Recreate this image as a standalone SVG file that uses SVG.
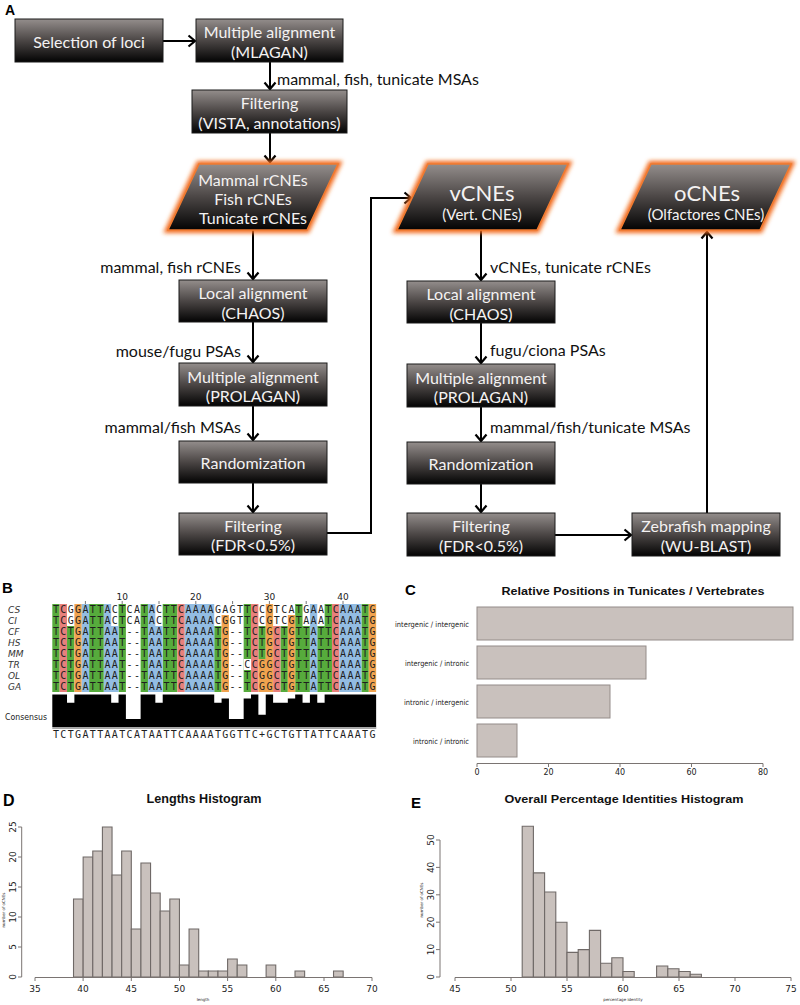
<svg xmlns="http://www.w3.org/2000/svg" xmlns:xlink="http://www.w3.org/1999/xlink" width="800" height="1005" viewBox="0 0 800 1005">
<defs>
<linearGradient id="boxg" x1="0" y1="0" x2="0" y2="1">
<stop offset="0" stop-color="#948e8c"/><stop offset="0.5" stop-color="#4b4645"/><stop offset="1" stop-color="#030303"/>
</linearGradient>
<filter id="glow" x="-20%" y="-40%" width="140%" height="180%"><feGaussianBlur stdDeviation="2.2"/></filter>
<marker id="arr" markerUnits="userSpaceOnUse" markerWidth="12" markerHeight="14" viewBox="-9 -7 12 14" refX="0" refY="0" orient="auto" overflow="visible">
<path d="M-6.5,-5.5 L0,0 L-6.5,5.5" fill="none" stroke="#000" stroke-width="2.2"/>
</marker>
<style>
.box{fill:url(#boxg);stroke:#1a1a1a;stroke-width:1}
.para{fill:url(#boxg);stroke:#f07a30;stroke-width:1.6}
.glw{fill:none;stroke:#f26a1b;stroke-width:6;filter:url(#glow)}
.bt{font-family:Lato,'Open Sans',sans-serif;font-size:16px;fill:#f4f2f2;text-anchor:middle}
.big{font-size:22px}
.sub{font-size:15px}
.lbl{font-family:Lato,'Open Sans',sans-serif;font-size:16px;fill:#111}
.end{text-anchor:end}
.con{fill:none;stroke:#000;stroke-width:2;marker-end:url(#arr)}
.pl{font-family:'Liberation Sans',Arial,sans-serif;font-weight:bold;fill:#000}
.T{fill:#56ab3c}.C{fill:#e8807b}.G{fill:#f1a34f}.A{fill:#93bde3}
.seq{font-family:'DejaVu Sans Mono',monospace;font-size:10px;letter-spacing:1.34px;fill:#1e1e1e}
.rl{font-family:'DejaVu Sans',sans-serif;font-size:9px;font-style:italic;fill:#333}
.sm{font-family:'DejaVu Sans',sans-serif;fill:#222}
.ttl{font-family:'Liberation Sans',Arial,sans-serif;font-weight:bold;fill:#111;text-anchor:middle}
.bar{fill:#c9c1bd;stroke:#6f6967;stroke-width:1.1;vector-effect:non-scaling-stroke}
.barc{fill:#c9c1bd;stroke:#948c89;stroke-width:1}
.ax{stroke:#7a7472;stroke-width:1;fill:none}
</style>
<g id="rowCF">
<rect class="T" x="0" width="1" height="1"/><rect class="T" x="2" width="1" height="1"/><rect class="T" x="5" width="2" height="1"/><rect class="T" x="9" width="1" height="1"/><rect class="T" x="12" width="1" height="1"/><rect class="T" x="15" width="2" height="1"/><rect class="T" x="22" width="1" height="1"/><rect class="T" x="26" width="1" height="1"/><rect class="T" x="28" width="1" height="1"/><rect class="T" x="31" width="1" height="1"/><rect class="T" x="33" width="2" height="1"/><rect class="T" x="36" width="2" height="1"/><rect class="T" x="42" width="1" height="1"/>
<rect class="C" x="1" width="1" height="1"/><rect class="C" x="17" width="1" height="1"/><rect class="C" x="27" width="1" height="1"/><rect class="C" x="30" width="1" height="1"/><rect class="C" x="38" width="1" height="1"/>
<rect class="G" x="3" width="1" height="1"/><rect class="G" x="23" width="1" height="1"/><rect class="G" x="29" width="1" height="1"/><rect class="G" x="32" width="1" height="1"/><rect class="G" x="43" width="1" height="1"/>
<rect class="A" x="4" width="1" height="1"/><rect class="A" x="7" width="2" height="1"/><rect class="A" x="13" width="2" height="1"/><rect class="A" x="18" width="4" height="1"/><rect class="A" x="35" width="1" height="1"/><rect class="A" x="39" width="3" height="1"/>
</g>
<g id="rowOL">
<rect class="T" x="0" width="1" height="1"/><rect class="T" x="2" width="1" height="1"/><rect class="T" x="5" width="2" height="1"/><rect class="T" x="9" width="1" height="1"/><rect class="T" x="12" width="1" height="1"/><rect class="T" x="15" width="2" height="1"/><rect class="T" x="22" width="1" height="1"/><rect class="T" x="26" width="1" height="1"/><rect class="T" x="31" width="1" height="1"/><rect class="T" x="33" width="2" height="1"/><rect class="T" x="36" width="2" height="1"/><rect class="T" x="42" width="1" height="1"/>
<rect class="C" x="1" width="1" height="1"/><rect class="C" x="17" width="1" height="1"/><rect class="C" x="27" width="1" height="1"/><rect class="C" x="30" width="1" height="1"/><rect class="C" x="38" width="1" height="1"/>
<rect class="G" x="3" width="1" height="1"/><rect class="G" x="23" width="1" height="1"/><rect class="G" x="28" width="2" height="1"/><rect class="G" x="32" width="1" height="1"/><rect class="G" x="43" width="1" height="1"/>
<rect class="A" x="4" width="1" height="1"/><rect class="A" x="7" width="2" height="1"/><rect class="A" x="13" width="2" height="1"/><rect class="A" x="18" width="4" height="1"/><rect class="A" x="35" width="1" height="1"/><rect class="A" x="39" width="3" height="1"/>
</g>
<g id="rowCS">
<rect class="T" x="0" width="1" height="1"/><rect class="T" x="5" width="2" height="1"/><rect class="T" x="9" width="1" height="1"/><rect class="T" x="12" width="1" height="1"/><rect class="T" x="15" width="2" height="1"/><rect class="T" x="26" width="1" height="1"/><rect class="T" x="33" width="1" height="1"/><rect class="T" x="37" width="1" height="1"/><rect class="T" x="42" width="1" height="1"/>
<rect class="C" x="1" width="1" height="1"/><rect class="C" x="17" width="1" height="1"/><rect class="C" x="27" width="1" height="1"/><rect class="C" x="38" width="1" height="1"/>
<rect class="G" x="3" width="1" height="1"/><rect class="G" x="29" width="1" height="1"/><rect class="G" x="43" width="1" height="1"/>
<rect class="A" x="4" width="1" height="1"/><rect class="A" x="7" width="1" height="1"/><rect class="A" x="13" width="1" height="1"/><rect class="A" x="18" width="4" height="1"/><rect class="A" x="35" width="1" height="1"/><rect class="A" x="39" width="3" height="1"/>
</g>
</defs>

<rect width="800" height="1005" fill="#ffffff"/>

<!-- Panel A -->
<text class="pl" x="5" y="15" font-size="14">A</text>

<g id="connectors">
<path class="con" d="M163,41 H195"/>
<path class="con" d="M270,62 V89"/>
<path class="con" d="M270,133 V162"/>
<path class="con" d="M253,230 V279"/>
<path class="con" d="M253,322 V362"/>
<path class="con" d="M253,406 V440"/>
<path class="con" d="M253,483 V512"/>
<path class="con" d="M327,533 H371 V198 H411"/>
<path class="con" d="M481,230 V280"/>
<path class="con" d="M481,323 V363"/>
<path class="con" d="M481,407 V441"/>
<path class="con" d="M481,484 V512"/>
<path class="con" d="M555,535 H631"/>
<path class="con" d="M707,513 V232"/>
<text class="lbl" x="277" y="85">mammal, fish, tunicate MSAs</text>
<text class="lbl end" x="241" y="273">mammal, fish rCNEs</text>
<text class="lbl end" x="241" y="357">mouse/fugu PSAs</text>
<text class="lbl end" x="241" y="433">mammal/fish MSAs</text>
<text class="lbl" x="490" y="273">vCNEs, tunicate rCNEs</text>
<text class="lbl" x="490" y="356">fugu/ciona PSAs</text>
<text class="lbl" x="490" y="433">mammal/fish/tunicate MSAs</text>
</g>

<g id="n-sel"><rect class="box" x="15" y="19" width="148" height="43"/><text class="bt" x="89" y="48">Selection of loci</text></g>
<g id="n-mlagan"><rect class="box" x="196" y="19" width="147" height="43"/><text class="bt" x="269.5" y="38">Multiple alignment</text><text class="bt" x="269.5" y="58">(MLAGAN)</text></g>
<g id="n-vista"><rect class="box" x="192" y="90" width="155" height="43"/><text class="bt" x="269.5" y="109">Filtering</text><text class="bt" x="269.5" y="129">(VISTA, annotations)</text></g>

<g id="n-rcne"><path class="glw" d="M199,164 L338,164 L307,230 L168,230 Z"/><path class="para" d="M199,164 L338,164 L307,230 L168,230 Z"/>
<text class="bt" x="253" y="186">Mammal rCNEs</text><text class="bt" x="253" y="205">Fish rCNEs</text><text class="bt" x="253" y="224">Tunicate rCNEs</text></g>
<g id="n-vcne"><path class="glw" d="M428,164 L568,164 L537,230 L397,230 Z"/><path class="para" d="M428,164 L568,164 L537,230 L397,230 Z"/>
<text class="bt big" x="482" y="201">vCNEs</text><text class="bt sub" x="482" y="220">(Vert. CNEs)</text></g>
<g id="n-ocne"><path class="glw" d="M651,164 L791,164 L760,230 L620,230 Z"/><path class="para" d="M651,164 L791,164 L760,230 L620,230 Z"/>
<text class="bt big" x="707" y="201">oCNEs</text><text class="bt sub" x="706" y="220">(Olfactores CNEs)</text></g>

<g id="n-local1"><rect class="box" x="179" y="280" width="148" height="42"/><text class="bt" x="253" y="299">Local alignment</text><text class="bt" x="253" y="319">(CHAOS)</text></g>
<g id="n-prol1"><rect class="box" x="179" y="363" width="148" height="43"/><text class="bt" x="253" y="383">Multiple alignment</text><text class="bt" x="253" y="402">(PROLAGAN)</text></g>
<g id="n-rand1"><rect class="box" x="179" y="441" width="148" height="42"/><text class="bt" x="253" y="469">Randomization</text></g>
<g id="n-filt1"><rect class="box" x="179" y="513" width="148" height="42"/><text class="bt" x="253" y="532">Filtering</text><text class="bt" x="253" y="551">(FDR&lt;0.5%)</text></g>

<g id="n-local2"><rect class="box" x="407" y="281" width="148" height="42"/><text class="bt" x="481" y="300">Local alignment</text><text class="bt" x="481" y="320">(CHAOS)</text></g>
<g id="n-prol2"><rect class="box" x="407" y="364" width="148" height="43"/><text class="bt" x="481" y="384">Multiple alignment</text><text class="bt" x="481" y="403">(PROLAGAN)</text></g>
<g id="n-rand2"><rect class="box" x="407" y="442" width="148" height="42"/><text class="bt" x="481" y="470">Randomization</text></g>
<g id="n-filt2"><rect class="box" x="407" y="513" width="148" height="43"/><text class="bt" x="481" y="532">Filtering</text><text class="bt" x="481" y="552">(FDR&lt;0.5%)</text></g>
<g id="n-zebra"><rect class="box" x="632" y="513" width="148" height="43"/><text class="bt" x="706" y="532">Zebrafish mapping</text><text class="bt" x="706" y="552">(WU-BLAST)</text></g>

<!-- Panel B -->
<g id="panelB">
<text class="pl" x="2" y="593" font-size="15">B</text>
<g class="sm" font-size="9" text-anchor="middle"><text x="122.2" y="600">10</text><text x="195.8" y="600">20</text><text x="269.4" y="600">30</text><text x="343" y="600">40</text></g>
<path stroke="#777" stroke-width="1" d="M85.4,601V604M122.2,601V604M159,601V604M195.8,601V604M232.6,601V604M269.4,601V604M306.2,601V604M343,601V604"/>
<g transform="translate(52.3,604) scale(7.36,11)">
<use xlink:href="#rowCS" y="0"/>
<use xlink:href="#rowCS" y="1"/>
<rect class="G" x="23" y="1" width="1" height="1"/><rect class="G" x="32" y="1" width="1" height="1"/>
<use xlink:href="#rowCF" y="2"/>
<use xlink:href="#rowCF" y="3"/>
<use xlink:href="#rowCF" y="4"/>
<use xlink:href="#rowOL" y="5"/>
<rect x="26" y="5" width="1" height="1" fill="#fff"/>
<use xlink:href="#rowOL" y="6"/>
<use xlink:href="#rowOL" y="7"/>
</g>
<g class="rl"><text x="8" y="613">CS</text><text x="8" y="624">CI</text><text x="8" y="635">CF</text><text x="8" y="646">HS</text><text x="8" y="657">MM</text><text x="8" y="668">TR</text><text x="8" y="679">OL</text><text x="8" y="690">GA</text></g>
<g class="seq">
<text x="52.97" y="613">TCGGATTACTCATACTTCAAAAGAGTTCCGTCATGAATCAAATG</text>
<text x="52.97" y="624">TCGGATTACTCATACTTCAAAACGGTTCCGTCGTAAATCAAATG</text>
<text x="52.97" y="635">TCTGATTAAT--TAATTCAAAATG--TCTGCTGTTATTCAAATG</text>
<text x="52.97" y="646">TCTGATTAAT--TAATTCAAAATG--TCTGCTGTTATTCAAATG</text>
<text x="52.97" y="657">TCTGATTAAT--TAATTCAAAATG--TCTGCTGTTATTCAAATG</text>
<text x="52.97" y="668">TCTGATTAAT--TAATTCAAAATG--CCGGCTGTTATTCAAATG</text>
<text x="52.97" y="679">TCTGATTAAT--TAATTCAAAATG--TCGGCTGTTATTCAAATG</text>
<text x="52.97" y="690">TCTGATTAAT--TAATTCAAAATG--TCGGCTGTTATTCAAATG</text>
</g>
<path fill="#000" transform="translate(52.3,727) scale(7.36,-4.0625)" d="M0,0 V8 H2 V6 H3 V8 H8 V6 H9 V8 H10 V2 H12 V8 H14 V6 H15 V8 H22 V6 H23 V7 H24 V2 H26 V7 H27 V8 H28 V3 H29 V8 H30 V6 H32 V7 H33 V8 H34 V6 H35 V8 H36 V6 H37 V8 H44 V0 Z"/>
<line x1="52.3" y1="728" x2="376.3" y2="728" stroke="#8a8a8a" stroke-width="1.5"/>
<text class="sm" x="5" y="720" font-size="8.5" textLength="42" lengthAdjust="spacingAndGlyphs" fill="#333">Consensus</text>
<text class="seq" x="52.97" y="738" fill="#444">TCTGATTAATCATAATTCAAAATGGTTC+GCTGTTATTCAAATG</text>
</g>

<!-- Panel C -->
<g id="panelC">
<text class="pl" x="405" y="595" font-size="15">C</text>
<text class="ttl" x="633" y="595" font-size="11" textLength="263" lengthAdjust="spacingAndGlyphs">Relative Positions in Tunicates / Vertebrates</text>
<rect class="barc" x="477" y="607" width="316" height="33"/>
<rect class="barc" x="477" y="646" width="169" height="33"/>
<rect class="barc" x="477" y="685" width="133" height="33"/>
<rect class="barc" x="477" y="724" width="40" height="33"/>
<g font-family="'DejaVu Sans',sans-serif" fill="#222" font-size="7.5" text-anchor="end">
<text x="469" y="627" textLength="74" lengthAdjust="spacingAndGlyphs">intergenic / intergenic</text>
<text x="469" y="666" textLength="64" lengthAdjust="spacingAndGlyphs">intergenic / intronic</text>
<text x="469" y="705" textLength="65" lengthAdjust="spacingAndGlyphs">intronic / intergenic</text>
<text x="469" y="744" textLength="56" lengthAdjust="spacingAndGlyphs">intronic / intronic</text>
</g>
<path class="ax" d="M477,763.5 H763 M477,763.5 V767 M548.5,763.5 V767 M620,763.5 V767 M691.5,763.5 V767 M763,763.5 V767"/>
<g class="sm" font-size="8" text-anchor="middle"><text x="477" y="775">0</text><text x="548.5" y="775">20</text><text x="620" y="775">40</text><text x="691.5" y="775">60</text><text x="763" y="775">80</text></g>
</g>

<!-- Panel D -->
<g id="panelD">
<text class="pl" x="3" y="806" font-size="16">D</text>
<text class="ttl" x="204" y="803" font-size="13" textLength="115" lengthAdjust="spacingAndGlyphs">Lengths Histogram</text>
<g transform="translate(35,977) scale(9.63,-6)">
<rect class="bar" x="4" width="1" height="13"/><rect class="bar" x="5" width="1" height="20"/><rect class="bar" x="6" width="1" height="21"/><rect class="bar" x="7" width="1" height="25"/><rect class="bar" x="8" width="1" height="17"/><rect class="bar" x="9" width="1" height="21"/><rect class="bar" x="10" width="1" height="8"/><rect class="bar" x="11" width="1" height="19"/><rect class="bar" x="12" width="1" height="14"/><rect class="bar" x="13" width="1" height="11"/><rect class="bar" x="14" width="1" height="13"/><rect class="bar" x="15" width="1" height="2"/><rect class="bar" x="16" width="1" height="8"/><rect class="bar" x="17" width="1" height="1"/><rect class="bar" x="18" width="1" height="1"/><rect class="bar" x="19" width="1" height="1"/><rect class="bar" x="20" width="1" height="3"/><rect class="bar" x="21" width="1" height="2"/><rect class="bar" x="24" width="1" height="2"/><rect class="bar" x="27" width="1" height="1"/><rect class="bar" x="31" width="1" height="1"/>
</g>
<path class="ax" d="M35,977.5 H372 M35,977.5 V981 M83.1,977.5 V981 M131.3,977.5 V981 M179.5,977.5 V981 M227.6,977.5 V981 M275.8,977.5 V981 M324,977.5 V981 M372,977.5 V981"/>
<path class="ax" d="M21.7,827 V977 M21.7,977 H18 M21.7,947 H18 M21.7,917 H18 M21.7,887 H18 M21.7,857 H18 M21.7,827 H18"/>
<g class="sm" font-size="9" text-anchor="middle"><text x="35" y="992">35</text><text x="83.1" y="992">40</text><text x="131.3" y="992">45</text><text x="179.5" y="992">50</text><text x="227.6" y="992">55</text><text x="275.8" y="992">60</text><text x="324" y="992">65</text><text x="372" y="992">70</text></g>
<g class="sm" font-size="9" text-anchor="middle">
<text transform="translate(16,977) rotate(-90)">0</text><text transform="translate(16,947) rotate(-90)">5</text><text transform="translate(16,917) rotate(-90)">10</text><text transform="translate(16,887) rotate(-90)">15</text><text transform="translate(16,857) rotate(-90)">20</text><text transform="translate(16,827) rotate(-90)">25</text>
</g>
<text class="sm" font-size="4" text-anchor="middle" transform="translate(5,910) rotate(-90)">number of oCNEs</text>
<text class="sm" font-size="4" text-anchor="middle" x="203" y="1001">length</text>
</g>

<!-- Panel E -->
<g id="panelE">
<text class="pl" x="411" y="808" font-size="15">E</text>
<text class="ttl" x="624" y="803" font-size="11.5" textLength="239" lengthAdjust="spacingAndGlyphs">Overall Percentage Identities Histogram</text>
<g transform="translate(455,977) scale(11.2,-2.74)">
<rect class="bar" x="6" width="1" height="55"/><rect class="bar" x="7" width="1" height="38"/><rect class="bar" x="8" width="1" height="31"/><rect class="bar" x="9" width="1" height="20"/><rect class="bar" x="10" width="1" height="9"/><rect class="bar" x="11" width="1" height="10"/><rect class="bar" x="12" width="1" height="17"/><rect class="bar" x="13" width="1" height="5"/><rect class="bar" x="14" width="1" height="7"/><rect class="bar" x="15" width="1" height="2"/><rect class="bar" x="18" width="1" height="4"/><rect class="bar" x="19" width="1" height="3"/><rect class="bar" x="20" width="1" height="2"/><rect class="bar" x="21" width="1" height="1"/>
</g>
<path class="ax" d="M455,977.5 H791 M455,977.5 V981 M511,977.5 V981 M567,977.5 V981 M623,977.5 V981 M679,977.5 V981 M735,977.5 V981 M791,977.5 V981"/>
<path class="ax" d="M440,840 V977 M440,977 H436 M440,949.6 H436 M440,922.2 H436 M440,894.8 H436 M440,867.4 H436 M440,840 H436"/>
<g class="sm" font-size="9" text-anchor="middle"><text x="455" y="992">45</text><text x="511" y="992">50</text><text x="567" y="992">55</text><text x="623" y="992">60</text><text x="679" y="992">65</text><text x="735" y="992">70</text><text x="791" y="992">75</text></g>
<g class="sm" font-size="9" text-anchor="middle">
<text transform="translate(434,977) rotate(-90)">0</text><text transform="translate(434,949.6) rotate(-90)">10</text><text transform="translate(434,922.2) rotate(-90)">20</text><text transform="translate(434,894.8) rotate(-90)">30</text><text transform="translate(434,867.4) rotate(-90)">40</text><text transform="translate(434,840) rotate(-90)">50</text>
</g>
<text class="sm" font-size="4" text-anchor="middle" transform="translate(423,900) rotate(-90)">number of oCNEs</text>
<text class="sm" font-size="4" text-anchor="middle" x="623" y="1001">percentage identity</text>
</g>
</svg>
